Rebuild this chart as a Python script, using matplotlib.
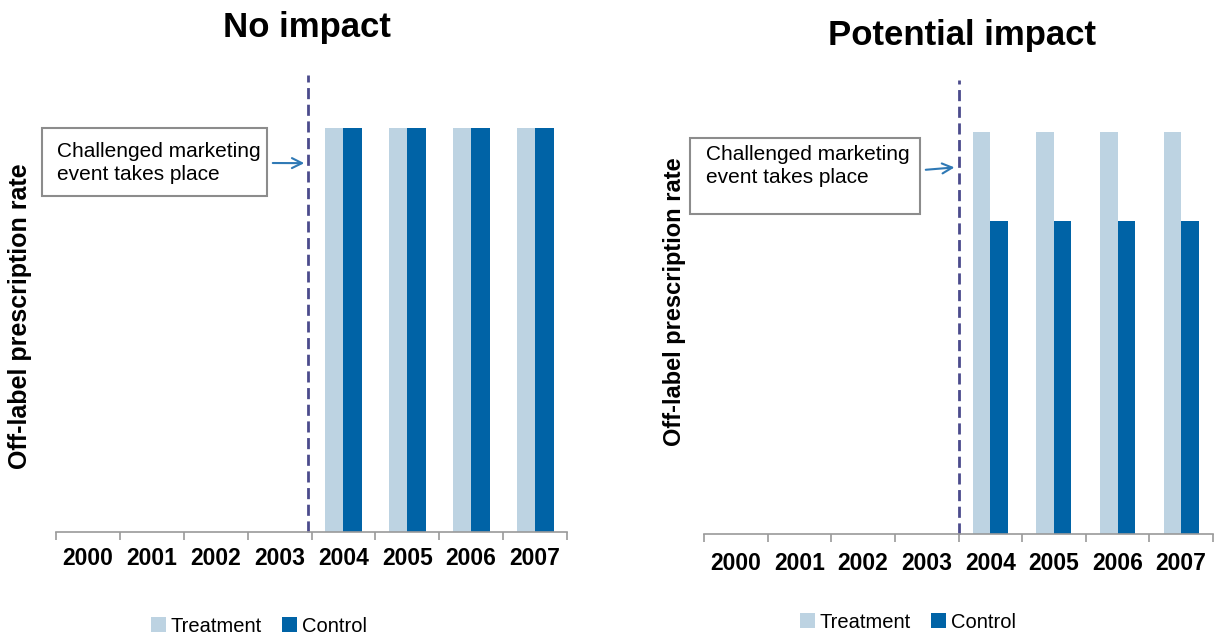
import matplotlib.pyplot as plt
from matplotlib.patches import Rectangle
import numpy as np

plt.rcParams["font.family"] = ["Liberation Sans", "DejaVu Sans"]

years = ["2000", "2001", "2002", "2003", "2004", "2005", "2006", "2007"]

# panel 1: no impact
treat_no = [0, 0, 0, 0, 1.0, 1.0, 1.0, 1.0]
ctrl_no = [0, 0, 0, 0, 1.0, 1.0, 1.0, 1.0]

# panel 2: potential impact
treat_pot = [0, 0, 0, 0, 1.0, 1.0, 1.0, 1.0]
ctrl_pot = [0, 0, 0, 0, 0.78, 0.78, 0.78, 0.78]

titles = ["No impact", "Potential impact"]
event_text = "Challenged marketing\nevent takes place"
event_x = [3.45, 3.5]
arrow_y = [0.912, 0.913]
ylabel = "Off-label prescription rate"

c_treat = "#bdd3e2"
c_ctrl = "#0063a6"
c_event = "#4b4b8c"
c_arrow = "#2f79b5"

fig = plt.figure(figsize=(12.15, 6.37), dpi=100)
W, H = 1215, 637


def px(x0, y0, x1, y1):
    # pixel box (top-left origin) -> figure fraction rect
    return [x0 / W, 1 - y1 / H, (x1 - x0) / W, (y1 - y0) / H]


axes = [
    fig.add_axes(px(56, 75, 567, 532)),
    fig.add_axes(px(704, 80, 1213, 534)),
]

panels = [(treat_no, ctrl_no, 0.29), (treat_pot, ctrl_pot, 0.275)]
x = np.arange(len(years))

for i, ax in enumerate(axes):
    tr, ct, w = panels[i]
    ax.bar(x - w / 2, tr, w, color=c_treat, label="Treatment")
    ax.bar(x + w / 2, ct, w, color=c_ctrl, label="Control")
    ax.set_xlim(-0.5, len(years) - 0.5)
    ax.set_ylim(0, 1.13)

    for s in ["top", "right", "left"]:
        ax.spines[s].set_visible(False)
    ax.spines["bottom"].set_color("#9a9a9a")
    ax.spines["bottom"].set_linewidth(1.2)
    ax.set_yticks([])

    ax.set_xticks(np.arange(len(years) + 1) - 0.5)
    ax.set_xticklabels([])
    ax.tick_params(axis="x", which="major", length=6, width=1.2,
                   color="#9a9a9a", direction="out")
    ax.set_xticks(x, minor=True)
    ax.set_xticklabels(years, minor=True, fontsize=16.5, fontweight="bold")
    ax.tick_params(axis="x", which="minor", length=0, pad=[11, 13][i])

    ax.axvline(event_x[i], color=c_event, lw=2, ls=(0, (4, 2)), clip_on=False)

    ax.legend(loc="center", bbox_to_anchor=([259, 908][i] / W, 1 - [626, 622][i] / H),
              bbox_transform=fig.transFigure, ncol=2, frameon=False,
              fontsize=14.5, handlelength=0.75, handleheight=0.75,
              handletextpad=0.25, columnspacing=1.0)

# titles
fig.text(307 / W, 1 - 27 / H, titles[0], ha="center", va="center",
         fontsize=25, fontweight="bold")
fig.text(962 / W, 1 - 36 / H, titles[1], ha="center", va="center",
         fontsize=25, fontweight="bold")

# y labels
fig.text(20 / W, 1 - 316 / H, ylabel, rotation=90, ha="center", va="center",
         fontsize=18, fontweight="bold")
fig.text(675 / W, 1 - 302 / H, ylabel, rotation=90, ha="center", va="center",
         fontsize=17, fontweight="bold")

# event boxes with arrows
boxes = [(42, 128, 267, 196), (690, 138, 920, 214)]
text_pos = [(57, 163), (706, 166)]
arrow_start_y = [163, 170]
for i, ax in enumerate(axes):
    x0, y0, x1, y1 = boxes[i]
    r = Rectangle((x0 / W, 1 - y1 / H), (x1 - x0) / W, (y1 - y0) / H,
                  transform=fig.transFigure, fc="white", ec="#8c8c8c", lw=1.5)
    fig.patches.append(r)
    tx, ty = text_pos[i]
    fig.text(tx / W, 1 - ty / H, event_text, ha="left", va="center",
             fontsize=15, linespacing=1.3)
    ax.annotate("", xy=(event_x[i] - 0.02, arrow_y[i]), xycoords="data",
                xytext=((x1 + 3) / W, 1 - arrow_start_y[i] / H),
                textcoords="figure fraction",
                arrowprops=dict(arrowstyle="->", color=c_arrow, lw=1.5,
                                mutation_scale=18),
                annotation_clip=False)

plt.savefig("out.png", dpi=100)
